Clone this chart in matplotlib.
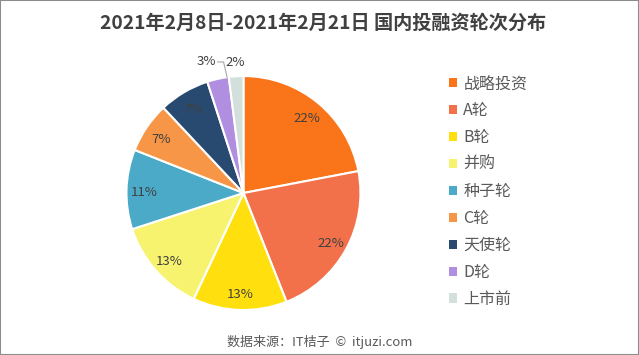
import numpy as np
import matplotlib.pyplot as plt
from matplotlib.patches import Rectangle

plt.rcParams['font.family'] = ['Noto Sans CJK SC', 'DejaVu Sans']

# data
rounds = ['战略投资', 'A轮', 'B轮', '并购', '种子轮', 'C轮', '天使轮', 'D轮', '上市前']
shares = [22, 22, 13, 13, 11, 7, 7, 3, 2]
colors = ['#FA7419', '#F2714A', '#FFE00E', '#F8F36E', '#4BAAC8',
          '#F79646', '#284A70', '#B18FE0', '#D3DFDC']

fig = plt.figure(figsize=(6.39, 3.55), dpi=100)
fig.patches.append(Rectangle((0, 0), 1, 1, transform=fig.transFigure,
                             fill=False, edgecolor='#8c8c8c', linewidth=1.5))

ax = fig.add_axes([0.1613, 0.0608, 0.4394, 0.791])
wedges, _ = ax.pie(shares, colors=colors, startangle=90, counterclock=False,
                   radius=1.0, wedgeprops=dict(edgecolor='white', linewidth=1.5))
ax.set_xlim(-1.2, 1.2)
ax.set_ylim(-1.2, 1.2)
ax.set_aspect('equal')
ax.axis('off')

# percentage labels
for w, v in zip(wedges, shares):
    mid = np.deg2rad((w.theta1 + w.theta2) / 2)
    if v >= 5:
        r = 0.85
        ax.text(r * np.cos(mid), r * np.sin(mid) - 0.02, f'{v}%', ha='center', va='center',
                fontsize=9.5, color='#404040')
    else:
        r = 1.12
        x, y = r * np.cos(mid), r * np.sin(mid)
        if v == 3:
            x = -0.32
            y = 1.12
            ax.plot([-0.22, -0.17, -0.14], [1.12, 1.12, 0.99], color='#a6a6a6', lw=0.8)
        ax.text(x, y, f'{v}%', ha='center', va='center',
                fontsize=9.5, color='#404040')

# legend
leg = ax.legend(wedges, rounds, loc='upper left', bbox_to_anchor=(0.69, 0.81),
                bbox_transform=fig.transFigure, frameon=False, fontsize=11.5,
                handlelength=0.5, handleheight=0.5, handletextpad=0.4,
                labelspacing=0.62, labelcolor='#595959', borderpad=0)
for h in leg.legend_handles:
    h.set_edgecolor('none')

fig.text(0.505, 0.935, '2021年2月8日-2021年2月21日 国内投融资轮次分布', ha='center', va='center',
         fontsize=13.8, fontweight='bold', color='#404040')
fig.text(0.5, 0.037, '数据来源：IT桔子  ©  itjuzi.com', ha='center', va='center',
         fontsize=9.4, color='#595959')

fig.savefig('out.png', dpi=100)
